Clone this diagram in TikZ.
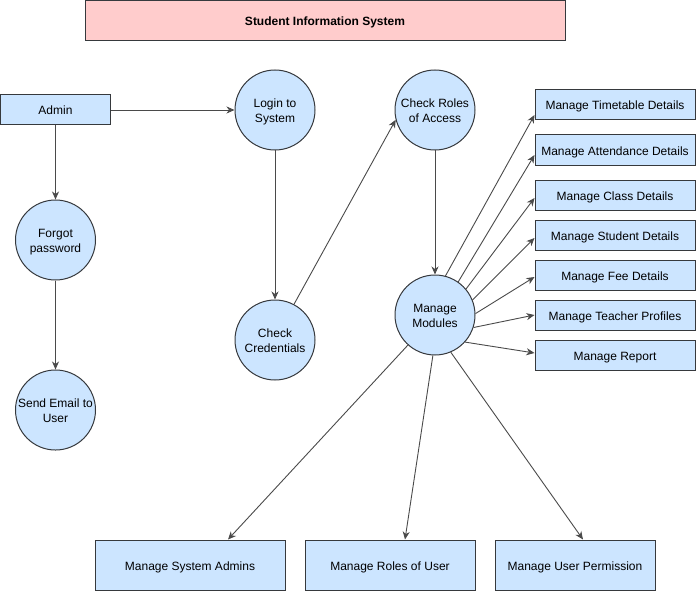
\documentclass[tikz,border=0pt]{standalone}
\usepackage{fontspec}
\setmainfont{Liberation Sans}
\usetikzlibrary{arrows.meta,calc}
\definecolor{kreisblau}{HTML}{CCE5FF}
\definecolor{titelrot}{HTML}{FFCCCC}
\definecolor{rand}{HTML}{36393D}
\definecolor{linie}{HTML}{4A4A4A}
\tikzset{
	kasten/.style={draw=rand, fill=kreisblau, line width=1pt, inner sep=0pt,
	text height=11pt, text depth=1pt, font=\fontsize{12}{14.5}\selectfont},
	kreis/.style={circle, draw=rand, fill=kreisblau, line width=1pt,
	minimum size=80pt, inner sep=0pt, align=center, text height=27pt,
	text depth=2.5pt, font=\fontsize{12}{14.5}\selectfont},
	pfeil/.style={draw=linie, line width=0.9pt,
	-{Stealth[length=8pt,width=7pt,inset=2.5pt]}}
}
\begin{document}
\begin{tikzpicture}[x=1pt, y=-1pt]
	\useasboundingbox (0,0) rectangle (696,591);
	% Titel
	\node[kasten, fill=titelrot, minimum width=480pt, minimum height=39.5pt,
	font=\fontsize{12}{14.5}\selectfont\bfseries] (titel) at (325,20.5)
	{Student Information System};

	% Anmeldung
	\node[kasten, minimum width=110pt, minimum height=30pt] (admin) at (55.5,110)
	{Admin};
	\node[kreis] (login) at (275,110) {Login to\\System};
	\node[kreis] (vergessen) at (55.5,240) {Forgot\\password};
	\node[kreis] (email) at (55.5,410) {Send Email to\\User};
	\node[kreis] (pruefen) at (275,340) {Check\\Credentials};
	\node[kreis] (rollen) at (435,110) {Check Roles\\of Access};
	\node[kreis] (module) at (435,315) {Manage\\Modules};

	% Module rechts
	\foreach \name/\y/\text in {zeit/105/Manage Timetable Details,
		anwesend/150/Manage Attendance Details, klasse/195/Manage Class Details,
		schueler/235/Manage Student Details, gebuehr/275/Manage Fee Details,
		lehrer/315/Manage Teacher Profiles, bericht/355/Manage Report}
		\node[kasten, minimum width=160pt, minimum height=30pt] (\name) at (615,\y)
		{\text};

	% Module unten
	\node[kasten, minimum width=190pt, minimum height=50pt] (sysadmin) at (190,565)
	{Manage System Admins};
	\node[kasten, minimum width=170pt, minimum height=50pt] (userrollen) at
	(390,565) {Manage Roles of User};
	\node[kasten, minimum width=160pt, minimum height=50pt] (rechte) at (575,565)
	{Manage User Permission};

	% Pfeile
	\draw[pfeil] (admin) -- (login);
	\draw[pfeil] (admin) -- (vergessen);
	\draw[pfeil] (vergessen) -- (email);
	\draw[pfeil] (login) -- (pruefen);
	\draw[pfeil] (pruefen.62) -- (rollen.194);
	\draw[pfeil] (rollen) -- (module);
	\foreach \name/\w/\d in {zeit/75/10, anwesend/55/5, klasse/40/3,
		schueler/22/3, gebuehr/2/2, lehrer/342/0, bericht/318/-2}
		\draw[pfeil] (module.\w) -- ($(\name.west)+(0,\d)$);
	\draw[pfeil] (module.228) -- ($(sysadmin.north)+(38,0)$);
	\draw[pfeil] (module.267) -- ($(userrollen.north)+(15,0)$);
	\draw[pfeil] (module.293) -- ($(rechte.north)+(8,0)$);
\end{tikzpicture}
\end{document}
